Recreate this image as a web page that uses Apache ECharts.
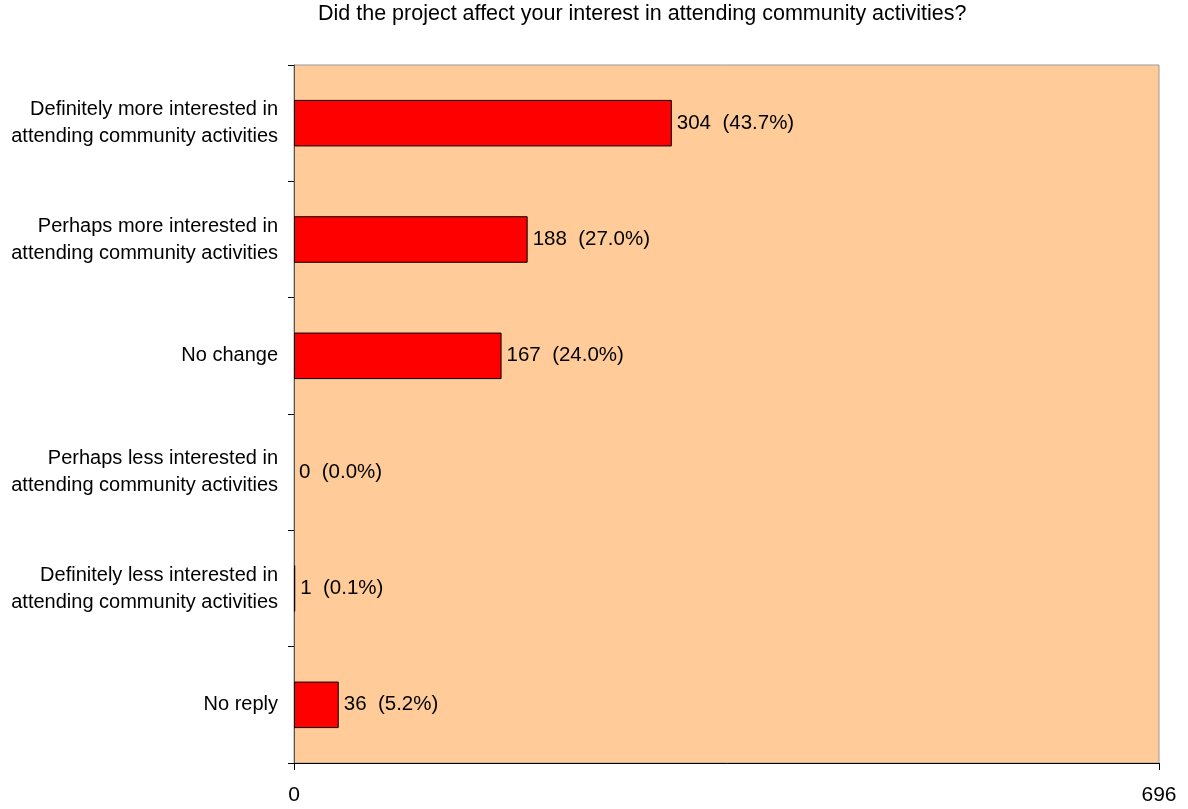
<!DOCTYPE html>
<html>
<head>
<meta charset="utf-8">
<script src="https://cdn.jsdelivr.net/npm/echarts@6/dist/echarts.min.js"></script>
<style>
  html, body { margin: 0; padding: 0; background: #ffffff; }
  #chart { width: 1188px; height: 809px; }
</style>
</head>
<body>
<div id="chart"></div>
<script>
// Survey answers, top to bottom
const categories = [
  'Definitely more interested in\nattending community activities',
  'Perhaps more interested in\nattending community activities',
  'No change',
  'Perhaps less interested in\nattending community activities',
  'Definitely less interested in\nattending community activities',
  'No reply'
];
const counts = [304, 188, 167, 0, 1, 36];
const percents = ['43.7%', '27.0%', '24.0%', '0.0%', '0.1%', '5.2%'];
const axisMax = 696;
const axisTicks = [0, 696];

const FONT = 'Liberation Sans, Arial, sans-serif';

const chart = echarts.init(document.getElementById('chart'), null, { renderer: 'canvas' });
chart.setOption({
  animation: false,
  backgroundColor: '#ffffff',
  title: {
    text: 'Did the project affect your interest in attending community activities?',
    left: 313,
    top: -2,
    textStyle: { fontFamily: FONT, fontSize: 21.5, fontWeight: 'normal', color: '#000' }
  },
  grid: {
    left: 294, right: 29, top: 65, bottom: 46,
    show: true,
    backgroundColor: '#FFCC99',
    borderColor: '#999999',
    borderWidth: 1,
    containLabel: false
  },
  xAxis: {
    type: 'value',
    min: 0,
    max: axisMax,
    interval: axisMax,
    splitLine: { show: false },
    axisLine: { show: true, onZero: false, lineStyle: { color: '#000', width: 1 } },
    axisTick: { show: true, length: 7, lineStyle: { color: '#000' } },
    axisLabel: {
      margin: 22,
      fontFamily: FONT, fontSize: 21, color: '#000',
      formatter: v => (axisTicks.includes(v) ? String(v) : '')
    }
  },
  yAxis: {
    type: 'category',
    data: categories,
    inverse: true,
    axisLine: { show: true, lineStyle: { color: '#555', width: 1 } },
    axisTick: { show: true, length: 6, lineStyle: { color: '#000' } },
    axisLabel: {
      margin: 16,
      fontFamily: FONT, fontSize: 20, color: '#000',
      lineHeight: 27, align: 'right'
    }
  },
  series: [{
    type: 'bar',
    // empty answers get no outline, so nothing is drawn for them
    data: counts.map(v => (v === 0 ? { value: v, itemStyle: { borderWidth: 0 } } : v)),
    barCategoryGap: '60%',
    itemStyle: { color: '#FF0000', borderColor: '#000', borderWidth: 1 },
    label: {
      show: true,
      position: 'right',
      distance: 5,
      fontFamily: FONT, fontSize: 20.5, color: '#000',
      formatter: p => p.value + '  (' + percents[p.dataIndex] + ')'
    }
  }]
});
</script>
</body>
</html>
